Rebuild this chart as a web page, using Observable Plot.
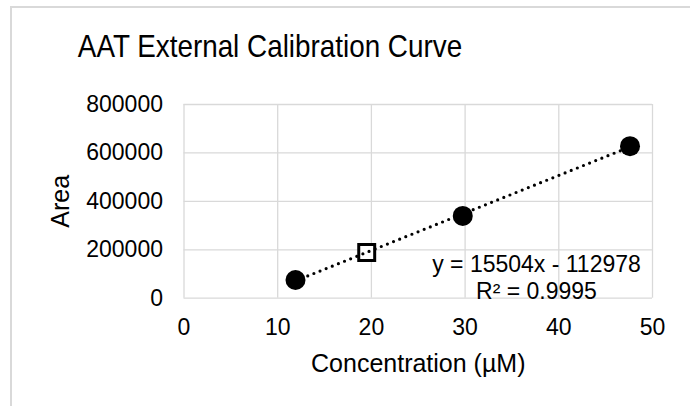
<!DOCTYPE html>
<html>
<head>
<meta charset="utf-8">
<script src="https://cdn.jsdelivr.net/npm/d3@7"></script>
<script src="https://cdn.jsdelivr.net/npm/@observablehq/plot@0.6"></script>
<style>
  body { margin: 0; background: #fff; }
  #chart { position: relative; width: 690px; height: 406px; overflow: hidden; font-family: "Liberation Sans", Arial, sans-serif; }
  #frame { position: absolute; left: 10px; top: 6px; width: 720px; height: 440px; border-left: 2px solid #d9d9d9; border-top: 2px solid #d9d9d9; }
  #title { position: absolute; left: 0; top: 30px; width: 540px; font-size: 32px; line-height: 32px; text-align: center; color: #000; white-space: nowrap; transform: scaleX(0.87); transform-origin: 270px 50%; }
  #plot { position: absolute; left: 0; top: 0; }
</style>
</head>
<body>
<div id="chart">
  <div id="frame"></div>
  <div id="plot"></div>
  <div id="title">AAT External Calibration Curve</div>
</div>
<script>
// Calibration standards (concentration in µM, peak area)
const stdConc = [11.9, 29.75, 47.6];
const stdArea = [75000, 340000, 628000];

// Unknown sample, read back from the curve
const sampleConc = [19.5];
const sampleArea = [189000];

// Linear trendline reported on the chart
const slope = 15504;
const intercept = -112978;
const rSquared = 0.9995;

// Axis ticks
const xTicks = [0, 10, 20, 30, 40, 50];
const yTicks = [0, 200000, 400000, 600000, 800000];

const standards = stdConc.map((c, i) => ({conc: c, area: stdArea[i]}));
const samples = sampleConc.map((c, i) => ({conc: c, area: sampleArea[i]}));
const xExtent = d3.extent(stdConc);
const trend = xExtent.map(x => ({conc: x, area: slope * x + intercept}));
const equation = `y = ${slope}x - ${Math.abs(intercept)}\nR² = ${rSquared}`;

const gridStyle = {stroke: "#d9d9d9", strokeOpacity: 1, strokeWidth: 1.3};

const chart = Plot.plot({
  width: 690,
  height: 406,
  marginTop: 104,
  marginBottom: 108.3,
  marginLeft: 183.5,
  marginRight: 38,
  x: {domain: [0, 50]},
  y: {domain: [0, 800000]},
  style: {fontFamily: '"Liberation Sans", Arial, sans-serif', fontSize: "23px", color: "#000", background: "transparent"},
  marks: [
    Plot.gridX(xTicks, gridStyle),
    Plot.gridY(yTicks, gridStyle),
    Plot.axisX(xTicks, {tickSize: 0, tickPadding: 20, label: null, fontSize: 23}),
    Plot.axisY(yTicks, {tickSize: 0, tickPadding: 21, label: null, tickFormat: "d", fontSize: 23}),
    Plot.text(["Area"], {text: d => d, frameAnchor: "left", rotate: -90, dx: -123.5, textAnchor: "middle", lineAnchor: "middle", fontSize: 25}),
    Plot.text(["Concentration (µM)"], {text: d => d, frameAnchor: "bottom", dy: 65.3, textAnchor: "middle", lineAnchor: "middle", fontSize: 25}),
    Plot.dot(standards, {x: "conc", y: "area", r: 10, fill: "#000", stroke: "none"}),
    Plot.dot(samples, {x: "conc", y: "area", symbol: "square", r: 9, fill: "#fff", stroke: "#000", strokeWidth: 3}),
    Plot.line(trend, {x: "conc", y: "area", stroke: "#000", strokeWidth: 3.2, strokeDasharray: "0,6.6", strokeLinecap: "round"}),
    Plot.text([equation], {text: d => d, frameAnchor: "bottom-right", dx: -116, dy: 0.6, textAnchor: "middle", lineAnchor: "bottom", lineHeight: 1.157, fontSize: 23})
  ]
});

document.getElementById("plot").append(chart);
</script>
</body>
</html>
